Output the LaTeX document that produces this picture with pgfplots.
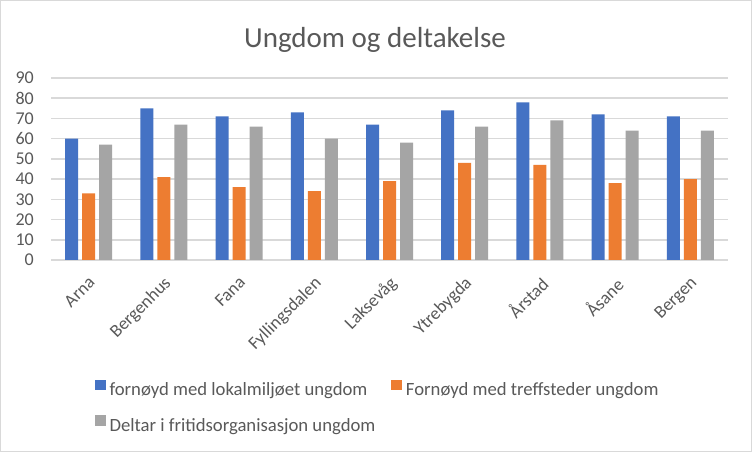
\documentclass[border=0pt]{standalone}
\usepackage{pgfplots}
\pgfplotsset{compat=1.18}
\usepackage{fontspec}
\setmainfont{Carlito}
\definecolor{cblue}{HTML}{4472C4}
\definecolor{corange}{HTML}{ED7D31}
\definecolor{cgray}{HTML}{A5A5A5}
\definecolor{ctext}{HTML}{595959}
\definecolor{cgrid}{HTML}{D9D9D9}
\begin{document}
\begin{tikzpicture}[x=1pt,y=1pt]
\useasboundingbox (0,0) rectangle (752,452);
\fill[white] (0,0) rectangle (752,452);
\draw[cgrid, line width=1pt] (0.5,0.5) rectangle (751.5,451.5);
\node[anchor=base, inner sep=0pt, font=\fontsize{29}{34}\selectfont, text=ctext] at (375,404) {Ungdom og deltakelse};
\begin{axis}[
  at={(51pt,192pt)}, anchor=south west, scale only axis,
  width=677pt, height=182pt,
  xmin=-0.5, xmax=8.5, ymin=0, ymax=90,
  ytick={0,10,...,90},
  xtick={0,...,8},
  xticklabels={Arna,Bergenhus,Fana,Fyllingsdalen,Laksevåg,Ytrebygda,Årstad,Åsane,Bergen},
  ybar=4pt, bar width=13pt,
  ymajorgrids, major grid style={cgrid, line width=1.5pt},
  axis line style={draw=none},
  major tick style={draw=none}, major tick length=0pt,
  /pgf/number format/assume math mode=true,
  tick label style={font=\fontsize{18}{21}\selectfont, text=ctext},
  yticklabel style={anchor=east, inner sep=0pt, xshift=-17pt},
  xticklabel style={xshift=-1pt, yshift=-15pt, rotate=45, anchor=north east, inner sep=0pt},
  legend columns=2,
  legend cell align=left,
  legend image code/.code={\fill[#1] (0pt,0.5pt) rectangle (10.5pt,11pt);},
  legend style={at={(axis description cs:0.065,-0.659)}, anchor=north west,
    draw=none, fill=none, inner sep=0pt, outer sep=0pt,
    font=\fontsize{18.7}{22}\selectfont, text=ctext,
    nodes={inner sep=0pt, text height=14pt, text depth=4pt},
    row sep=15.5pt,
    /tikz/column 1/.style={column sep=4pt},
    /tikz/column 2/.style={column sep=16pt},
    /tikz/column 3/.style={column sep=4pt}},
]
\addplot[fill=cblue, draw=none] coordinates {(0,60) (1,75) (2,71) (3,73) (4,67) (5,74) (6,78) (7,72) (8,71)};
\addplot[fill=corange, draw=none] coordinates {(0,33) (1,41) (2,36) (3,34) (4,39) (5,48) (6,47) (7,38) (8,40)};
\addplot[fill=cgray, draw=none] coordinates {(0,57) (1,67) (2,66) (3,60) (4,58) (5,66) (6,69) (7,64) (8,64)};
\legend{fornøyd med lokalmiljøet ungdom, Fornøyd med treffsteder ungdom, Deltar i fritidsorganisasjon ungdom}
\end{axis}
\end{tikzpicture}
\end{document}
